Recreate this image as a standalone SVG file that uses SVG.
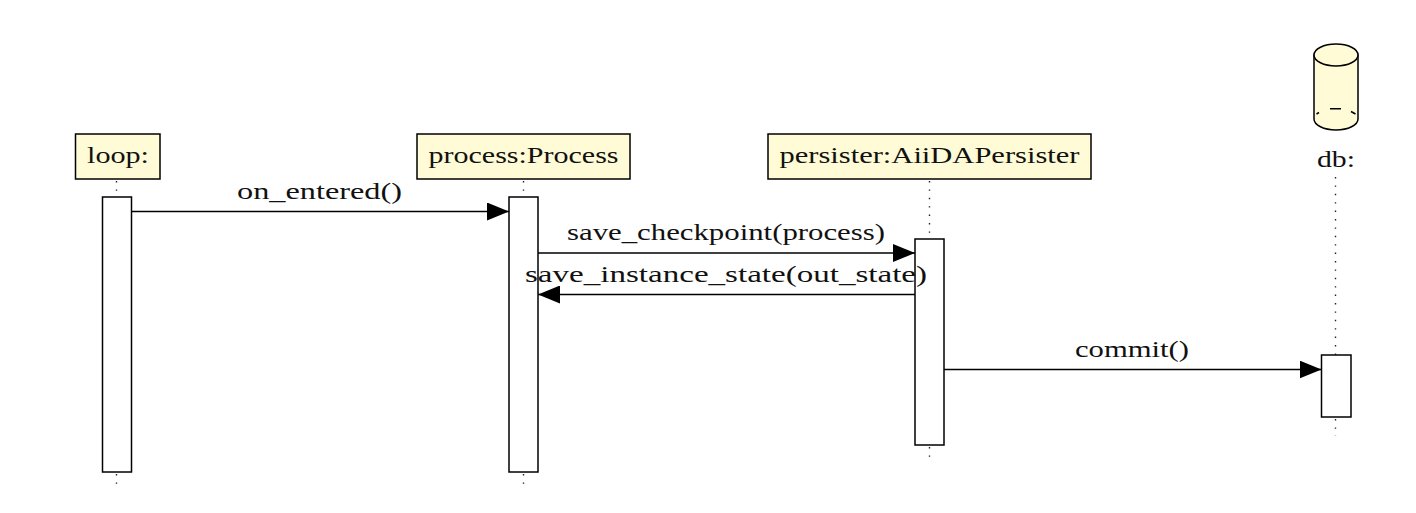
<svg xmlns="http://www.w3.org/2000/svg" width="1416" height="513" viewBox="0 0 1416 513">
<style>
text{font-family:"Liberation Serif","DejaVu Serif",serif;font-size:24px;fill:#111;text-anchor:start}
.box{fill:#fffbd6;stroke:#000;stroke-width:1.5}
.bar{fill:#fff;stroke:#000;stroke-width:1.5}
.life{fill:none;stroke:#222;stroke-width:1.4;stroke-dasharray:1.4 7}
.msg{fill:none;stroke:#000;stroke-width:1.5}
.cyl{fill:#fffbd6;stroke:#000;stroke-width:1.5}
.hid{fill:none;stroke:#000;stroke-width:1.5}
</style>
<defs>
<marker id="arrow" markerUnits="userSpaceOnUse" markerWidth="23" markerHeight="18" refX="22" refY="9" orient="auto"><path d="M0 0L22 9L0 18Z" fill="#000"/></marker>
</defs>
<rect width="1416" height="513" fill="#fff"/>
<g id="lifelines">
<path class="life" d="M116.5 181V197M116.5 474V490"/>
<path class="life" d="M523.5 181V197M523.5 474V490"/>
<path class="life" d="M929.5 181V239M929.5 447V463"/>
<path class="life" d="M1335.5 177V355M1335.5 419V436"/>
</g>
<g id="loop">
<rect class="box" x="75.5" y="134" width="84.5" height="45"/>
<text x="87" y="163" textLength="62" lengthAdjust="spacingAndGlyphs">loop:</text>
<rect class="bar" x="102.5" y="197" width="29" height="275"/>
</g>
<g id="process">
<rect class="box" x="417" y="134" width="213" height="45"/>
<text x="428.500" y="163" textLength="190" lengthAdjust="spacingAndGlyphs">process:Process</text>
<rect class="bar" x="509" y="197" width="29" height="275"/>
</g>
<g id="persister">
<rect class="box" x="768" y="134" width="323" height="45"/>
<text x="779.500" y="163" textLength="300" lengthAdjust="spacingAndGlyphs">persister:AiiDAPersister</text>
<rect class="bar" x="915" y="239" width="29" height="206"/>
</g>
<g id="db">
<path class="cyl" d="M1314 55V119A22 11 0 0 0 1358 119V55Z"/>
<ellipse class="cyl" cx="1336" cy="55" rx="22" ry="11"/>
<path class="hid" d="M1316.500 114L1319 112.500M1330 108.800H1341M1351 111.500L1355.500 114"/>
<text x="1317" y="167" textLength="38" lengthAdjust="spacingAndGlyphs">db:</text>
<rect class="bar" x="1321.500" y="355" width="29.500" height="62"/>
</g>
<g id="connectors">
<path class="msg" d="M131.500 211.500H509" marker-end="url(#arrow)"/>
<path class="msg" d="M538 253H915" marker-end="url(#arrow)"/>
<path class="msg" d="M915 294.500H538" marker-end="url(#arrow)"/>
<path class="msg" d="M944 369.500H1321.500" marker-end="url(#arrow)"/>
</g>
<g id="labels">
<text x="237" y="199" textLength="165" lengthAdjust="spacingAndGlyphs">on_entered()</text>
<text x="567" y="240" textLength="318" lengthAdjust="spacingAndGlyphs">save_checkpoint(process)</text>
<text x="525" y="282" textLength="402" lengthAdjust="spacingAndGlyphs">save_instance_state(out_state)</text>
<text x="1075" y="357" textLength="114" lengthAdjust="spacingAndGlyphs">commit()</text>
</g>
</svg>
